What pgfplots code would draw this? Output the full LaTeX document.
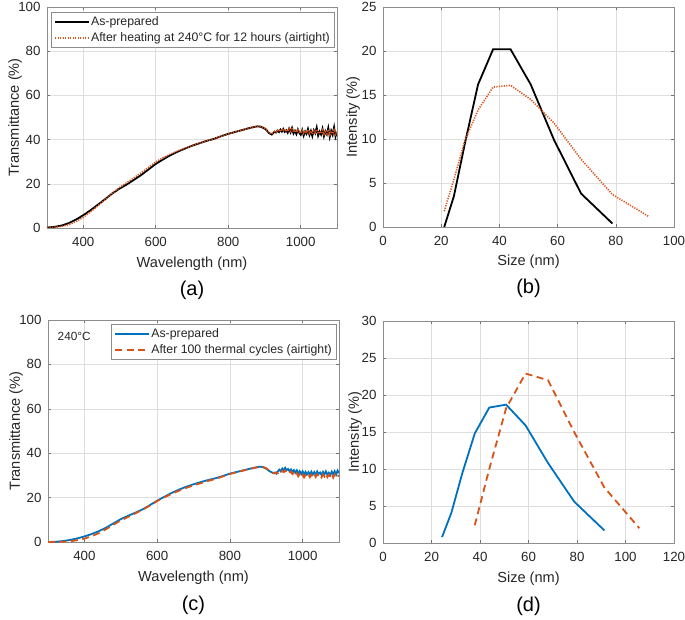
\documentclass[border=0pt]{standalone}
\usepackage{fontspec}
\setmainfont{Liberation Sans}
\usepackage{pgfplots}
\pgfplotsset{compat=1.18}

\definecolor{mblue}{rgb}{0,0.447,0.741}
\definecolor{morange}{rgb}{0.85,0.325,0.098}
\definecolor{mtext}{HTML}{262626}

\tikzset{panel/.style={font=\fontsize{20}{22}\selectfont, text=black}}

\pgfplotsset{
  mat/.style={
    scale only axis, anchor=south west,
    width=290pt, height=221pt,
    clip mode=individual,
    axis line style={draw=black!45, line width=0.6pt},
    tick align=inside, tick pos=both,
    major tick length=3pt,
    every tick/.style={black!55, line width=0.5pt},
    grid=major,
    major grid style={black!13, line width=0.5pt},
    /pgf/number format/assume math mode=true,
    /pgf/number format/1000 sep={},
    tick label style={font=\fontsize{13.3}{15}\selectfont, text=mtext},
    xticklabel style={yshift=-6pt},
    yticklabel style={xshift=-3pt},
    every axis x label/.style={at={(axis description cs:0.5,-0.16)}, anchor=center,
      font=\fontsize{14.6}{16}\selectfont, text=mtext},
    ylab/.style={every axis y label/.style={at={(axis description cs:##1,0.5)}, anchor=center, rotate=90,
      font=\fontsize{14.6}{16}\selectfont, text=mtext}},
    ylab=-0.11,
    legend cell align=left,
    legend style={font=\fontsize{12.3}{14}\selectfont, text=mtext,
      draw=black!45, line width=0.5pt, fill=white,
      inner xsep=3pt, inner ysep=1.5pt,
      nodes={inner xsep=1pt, inner ysep=2.8pt},
      at={(axis description cs:0.99,0.977)}, anchor=north east},
    legend image code/.code={\draw[##1] (0pt,0pt) -- (34pt,0pt);},
  },
}

\begin{document}
\begin{tikzpicture}
\useasboundingbox (0,0) rectangle (685pt,619pt);

% (a)
\begin{axis}[mat, at={(47pt,391pt)},
  xmin=300, xmax=1100, ymin=0, ymax=100,
  xtick={400,600,800,1000}, ytick={0,20,40,60,80,100},
  xlabel={Wavelength (nm)}, ylabel={Transmittance (\%)}]
\addplot[black, line width=1.8pt] coordinates {
(300,0.2)(320,0.5)(340,1.1)(360,2.2)(380,3.8)(400,5.8)(420,8.0)(440,10.5)(460,13.0)(480,15.6)
(500,17.8)(520,19.7)(540,21.8)(560,24.0)(580,26.5)(600,29.0)(620,31.0)(640,32.9)(660,34.5)(680,35.9)
(700,37.2)(720,38.3)(740,39.4)(760,40.3)(780,41.5)(800,42.6)(820,43.5)(840,44.4)(860,45.3)(880,46.0)
(890,45.8)(900,45.0)
(904,44.6)(908,43.8)(912,43.0)(916,42.6)(920,42.3)(924,42.9)(928,43.6)(932,43.2)(936,44.1)(940,43.4)
(944,44.5)(948,43.6)(952,44.8)(956,43.5)(960,44.2)(964,43.1)(968,44.9)(972,43.3)(976,45.2)(980,42.8)
(984,44.0)(988,42.5)(992,44.6)(996,43.0)(1000,42.2)(1004,44.3)(1008,41.8)(1012,43.7)(1016,42.6)(1020,44.8)
(1024,42.1)(1028,43.9)(1032,41.6)(1036,44.2)(1040,42.9)(1044,45.5)(1048,41.8)(1052,43.6)(1056,42.3)(1060,44.9)
(1064,41.5)(1068,43.8)(1072,42.4)(1076,45.3)(1080,41.2)(1084,44.0)(1088,42.2)(1092,45.6)(1096,41.4)(1100,43.5)};
\addplot[morange, line width=1.6pt, dash pattern=on 1.2pt off 1.3pt] coordinates {
(300,0.1)(320,0.3)(340,0.7)(360,1.5)(380,2.9)(400,4.8)(420,7.3)(440,10.0)(460,12.8)(480,15.7)
(500,18.3)(520,20.5)(540,22.7)(560,25.0)(580,27.5)(600,29.9)(620,31.8)(640,33.4)(660,34.8)(680,36.1)
(700,37.3)(720,38.4)(740,39.4)(760,40.3)(780,41.5)(800,42.6)(820,43.5)(840,44.4)(860,45.3)(880,46.1)
(890,46.0)(900,45.2)
(904,44.8)(908,44.0)(912,43.2)(916,42.8)(920,42.6)(924,43.2)(928,43.8)(932,43.5)(936,44.3)(940,43.7)
(944,44.6)(948,43.9)(952,44.9)(956,43.8)(960,44.5)(964,43.6)(968,45.0)(972,43.8)(976,45.4)(980,43.4)
(984,44.3)(988,43.2)(992,44.5)(996,43.4)(1000,43.0)(1004,44.2)(1008,42.8)(1012,43.9)(1016,43.0)(1020,44.4)
(1024,42.8)(1028,43.9)(1032,42.5)(1036,44.0)(1040,43.1)(1044,44.6)(1048,42.6)(1052,43.7)(1056,42.8)(1060,44.3)
(1064,42.4)(1068,43.6)(1072,42.7)(1076,44.5)(1080,42.2)(1084,43.8)(1088,42.6)(1092,44.4)(1096,42.3)(1100,43.2)};
\legend{As-prepared, After heating at 240°C for 12 hours (airtight)}
\node[panel] at (axis description cs:0.5,-0.28) {(a)};
\end{axis}

% (b)
\begin{axis}[mat, at={(383pt,392pt)}, width=291pt, height=220pt,
  xmin=0, xmax=100, ymin=0, ymax=25,
  xtick={0,20,...,100}, ytick={0,5,...,25}, ylab=-0.103,
  xlabel={Size (nm)}, ylabel={Intensity (\%)}]
\addplot[black, line width=1.8pt] coordinates {
(21.04,0.0)(24.36,3.5)(28.21,9.6)(32.67,16.2)(37.84,20.2)(43.82,20.2)(50.75,16.2)(58.77,9.9)(68.06,3.8)(78.82,0.4)};
\addplot[morange, line width=1.6pt, dash pattern=on 1.2pt off 1.3pt] coordinates {
(21.04,1.8)(24.36,5.4)(28.21,9.9)(32.67,13.3)(37.84,15.9)(43.82,16.1)(50.75,14.5)(58.77,11.8)(68.06,7.7)(78.82,3.7)(91.28,1.2)};
\node[panel] at (axis description cs:0.5,-0.28) {(b)};
\end{axis}

% (c)
\begin{axis}[mat, at={(48pt,77pt)}, width=291pt, height=222pt,
  xmin=300, xmax=1100, ymin=0, ymax=100,
  xtick={400,600,800,1000}, ytick={0,20,40,60,80,100},
  xlabel={Wavelength (nm)}, ylabel={Transmittance (\%)},
  legend style={at={(axis description cs:0.99,0.982)}}]
\addplot[mblue, line width=1.8pt] coordinates {
(300,0.0)(320,0.1)(340,0.4)(360,0.9)(380,1.6)(400,2.5)(420,3.6)(440,4.9)(460,6.5)(480,8.4)
(500,10.3)(520,11.8)(540,13.2)(560,14.7)(580,16.6)(600,18.6)(620,20.4)(640,22.1)(660,23.6)(680,24.9)
(700,26.0)(720,27.0)(740,27.9)(760,28.7)(780,29.7)(800,30.8)(820,31.6)(840,32.4)(860,33.2)(880,33.9)
(890,33.8)(900,33.0)(910,31.8)(920,31.0)
(924,31.3)(928,30.8)(932,31.9)(936,32.6)(940,31.8)(944,33.1)(948,32.2)(952,33.4)(956,32.3)(960,32.9)
(964,31.9)(968,32.7)(972,31.6)(976,32.4)(980,31.2)(984,32.3)(988,30.9)(992,31.9)(996,30.6)(1000,31.8)
(1004,30.5)(1008,31.6)(1012,30.4)(1016,31.5)(1020,30.3)(1024,31.7)(1028,30.4)(1032,31.5)(1036,30.2)(1040,31.8)
(1044,30.6)(1048,31.3)(1052,30.2)(1056,31.6)(1060,30.4)(1064,31.8)(1068,30.3)(1072,31.2)(1076,30.1)(1080,31.7)
(1084,30.5)(1088,31.9)(1092,30.3)(1096,32.2)(1100,31.0)};
\addplot[morange, line width=1.8pt, dash pattern=on 7pt off 4.5pt] coordinates {
(300,0.0)(320,0.0)(340,0.1)(360,0.3)(380,0.8)(400,1.5)(420,2.6)(440,4.0)(460,5.8)(480,7.8)
(500,9.7)(520,11.3)(540,12.9)(560,14.5)(580,16.4)(600,18.4)(620,20.1)(640,21.7)(660,23.1)(680,24.4)
(700,25.5)(720,26.5)(740,27.5)(760,28.4)(780,29.5)(800,30.6)(820,31.5)(840,32.3)(860,33.1)(880,33.8)
(890,33.9)(900,33.2)(910,32.0)(920,31.0)
(924,30.9)(928,31.4)(932,31.0)(936,31.8)(940,31.2)(944,32.0)(948,31.5)(952,32.2)(956,31.6)(960,31.9)
(964,31.0)(968,31.7)(972,30.6)(976,31.2)(980,30.0)(984,30.9)(988,29.6)(992,30.5)(996,29.3)(1000,30.2)
(1004,29.1)(1008,30.1)(1012,29.4)(1016,30.4)(1020,29.2)(1024,30.3)(1028,29.5)(1032,30.6)(1036,29.3)(1040,30.5)
(1044,29.6)(1048,30.2)(1052,29.1)(1056,30.4)(1060,29.5)(1064,30.7)(1068,29.2)(1072,30.3)(1076,29.4)(1080,30.6)
(1084,29.0)(1088,30.5)(1092,29.3)(1096,30.1)(1100,29.6)};
\legend{As-prepared, After 100 thermal cycles (airtight)}
\node[font=\fontsize{11.8}{13}\selectfont, text=mtext] at (axis description cs:0.09,0.925) {240°C};
\node[panel] at (axis description cs:0.5,-0.285) {(c)};
\end{axis}

% (d)
\begin{axis}[mat, at={(383pt,76pt)}, width=291pt, height=222pt,
  xmin=0, xmax=120, ymin=0, ymax=30,
  xtick={0,20,...,120}, ytick={0,5,...,30}, ylab=-0.096,
  xlabel={Size (nm)}, ylabel={Intensity (\%)}]
\addplot[mblue, line width=1.8pt] coordinates {
(24.36,0.8)(28.21,4.1)(32.67,9.4)(37.84,14.8)(43.82,18.3)(50.75,18.7)(58.77,15.9)(68.06,10.8)(78.82,5.6)(91.28,1.7)};
\addplot[morange, line width=1.8pt, dash pattern=on 7pt off 4.5pt] coordinates {
(37.84,2.4)(43.82,10.0)(50.75,18.2)(58.77,22.9)(68.06,22.0)(78.82,15.0)(91.28,7.5)(105.7,2.0)};
\node[panel] at (axis description cs:0.5,-0.285) {(d)};
\end{axis}
\end{tikzpicture}
\end{document}
